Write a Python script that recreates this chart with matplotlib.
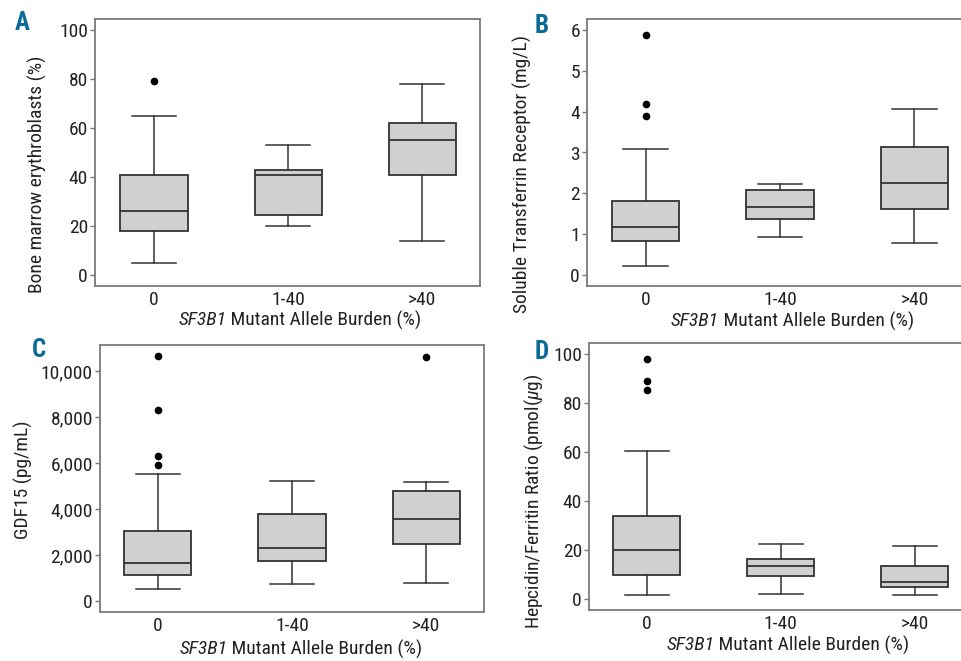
import matplotlib
matplotlib.use('Agg')
import matplotlib.pyplot as plt
from matplotlib import font_manager
from matplotlib.offsetbox import TextArea, HPacker, AnnotationBbox

groups = ['0', '1-40', '>40']

# (whislo, q1, med, q3, whishi) per group, plus outliers
ery_stats = [(5, 18, 26, 41, 65), (20, 24.5, 41, 43, 53), (14, 41, 55, 62, 78)]
ery_fliers = [[79], [], []]

stfr_stats = [(0.21, 0.84, 1.17, 1.82, 3.09), (0.94, 1.36, 1.67, 2.07, 2.24), (0.78, 1.62, 2.25, 3.13, 4.06)]
stfr_fliers = [[5.89, 4.19, 3.89], [], []]

gdf_stats = [(524, 1135, 1645, 3042, 5517), (742, 1732, 2314, 3785, 5240), (786, 2489, 3581, 4774, 5182)]
gdf_fliers = [[10684, 8297, 6317, 5939], [], [10640]]

hep_stats = [(1.6, 9.9, 20.1, 34.1, 60.4), (2.3, 9.3, 13.6, 16.3, 22.4), (1.6, 4.8, 7.1, 13.5, 21.8)]
hep_fliers = [[98.0, 89.0, 85.2], [], []]

installed = {f.name for f in font_manager.fontManager.ttflist}
main_font = 'Liberation Sans'
for cand in ['Roboto Condensed', 'Archivo Narrow', 'Barlow Semi Condensed']:
    if cand in installed:
        main_font = cand
        break
plt.rcParams['font.family'] = [main_font, 'DejaVu Sans']
plt.rcParams['mathtext.fontset'] = 'custom'
plt.rcParams['mathtext.rm'] = main_font
plt.rcParams['mathtext.it'] = main_font + ':italic'

LETTER = '#0b6b97'
EDGE = '#333333'
FRAME = '#7a7a7a'
TXT = '#222222'
FS = 14


def make_stats(stats, fliers):
    out = []
    for (lo, q1, med, q3, hi), fl in zip(stats, fliers):
        out.append({'whislo': lo, 'q1': q1, 'med': med, 'q3': q3, 'whishi': hi, 'fliers': fl})
    return out


def draw_panel(ax, stats, fliers, ylim, yticks, yticklabels, ylabel, xlim):
    ax.bxp(make_stats(stats, fliers), positions=[0, 1, 2], widths=0.5, capwidths=0.33,
           patch_artist=True,
           boxprops=dict(facecolor='#d0d0d0', edgecolor=EDGE, linewidth=1.3),
           medianprops=dict(color=EDGE, linewidth=1.3),
           whiskerprops=dict(color=EDGE, linewidth=1.1),
           capprops=dict(color=EDGE, linewidth=1.1),
           flierprops=dict(marker='o', markerfacecolor='black', markeredgecolor='black', markersize=4.5))
    ax.set_xlim(*xlim)
    ax.set_ylim(*ylim)
    ax.set_yticks(yticks)
    ax.set_yticklabels(yticklabels)
    ax.set_xticks([0, 1, 2])
    ax.set_xticklabels(groups)
    ax.tick_params(axis='x', length=0, labelsize=FS, colors=TXT, pad=3.5)
    ax.tick_params(axis='y', length=3.6, width=1, color=FRAME, labelsize=FS, labelcolor=TXT, pad=1.5)
    for s in ax.spines.values():
        s.set_color(FRAME)
        s.set_linewidth(1.3)
    ax.set_ylabel(ylabel, fontsize=FS, color=TXT)


def x_title(ax, xf, yf):
    # gene name in italics, rest upright
    parts = [TextArea('SF3B1', textprops=dict(fontsize=FS, color=TXT, style='italic')),
             TextArea(' Mutant Allele Burden (%)', textprops=dict(fontsize=FS, color=TXT))]
    pack = HPacker(children=parts, pad=0, sep=0, align='baseline')
    ab = AnnotationBbox(pack, (xf, yf), xycoords='axes fraction', box_alignment=(0.5, 0.5),
                        frameon=False, pad=0, annotation_clip=False)
    ax.add_artist(ab)


fig = plt.figure(figsize=(9.62, 6.61), dpi=100)
W, H = 962.0, 661.0


def add_axes(l, t, r, b):
    return fig.add_axes([l / W, 1 - b / H, (r - l) / W, (b - t) / H])


axA = add_axes(95, 19, 480, 286)
draw_panel(axA, ery_stats, ery_fliers, (-4.5, 104.5), [0, 20, 40, 60, 80, 100],
           ['0', '20', '40', '60', '80', '100'], 'Bone marrow erythroblasts (%)', (-0.44, 2.43))

axB = add_axes(587, 19, 975, 286)
draw_panel(axB, stfr_stats, stfr_fliers, (-0.27, 6.27), [0, 1, 2, 3, 4, 5, 6],
           ['0', '1', '2', '3', '4', '5', '6'], 'Soluble Transferrin Receptor (mg/L)', (-0.435, 2.45))

axC = add_axes(100, 345, 484, 612)
draw_panel(axC, gdf_stats, gdf_fliers, (-490, 11150), [0, 2000, 4000, 6000, 8000, 10000],
           ['0', '2,000', '4,000', '6,000', '8,000', '10,000'], 'GDF15 (pg/mL)', (-0.43, 2.43))

axD = add_axes(589, 343, 975, 610)
draw_panel(axD, hep_stats, hep_fliers, (-4.4, 104.4), [0, 20, 40, 60, 80, 100],
           ['0', '20', '40', '60', '80', '100'], r'Hepcidin/Ferritin Ratio (pmol($\mu$g)', (-0.43, 2.45))

axA.yaxis.set_label_coords(-0.125, 0.42)
axB.yaxis.set_label_coords(-0.142, 0.42)
axC.yaxis.set_label_coords(-0.174, 0.494)
axD.yaxis.set_label_coords(-0.114, 0.408)
x_title(axA, 0.532, (286 - 320) / 267)
x_title(axB, 0.53, (286 - 321) / 267)
x_title(axC, 0.523, (612 - 649) / 267)
x_title(axD, 0.515, (610 - 645) / 267)

for letter, x, y in [('A', 22.5, 23.5), ('B', 542, 26), ('C', 39, 350), ('D', 542, 352)]:
    fig.text(x / W, 1 - y / H, letter, color=LETTER, fontsize=18, fontweight='bold',
             ha='center', va='center')

fig.savefig('out.png', dpi=100)
